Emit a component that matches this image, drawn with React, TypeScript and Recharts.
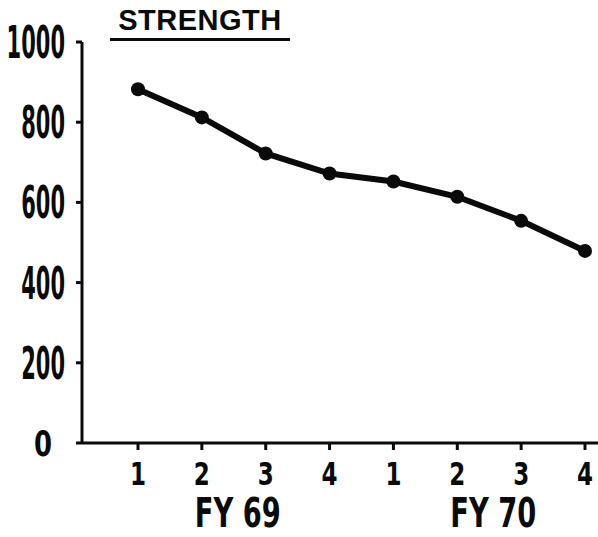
import React from 'react';
import { LineChart, Line, XAxis, YAxis } from 'recharts';

// quarter labels along the bottom, and which fiscal year each belongs to
const quarters = ['1', '2', '3', '4', '1', '2', '3', '4'];
const fiscalYears = ['FY 69', 'FY 69', 'FY 69', 'FY 69', 'FY 70', 'FY 70', 'FY 70', 'FY 70'];
const strength = [882, 812, 722, 672, 652, 614, 554, 479];
const yTicks = [0, 200, 400, 600, 800, 1000];

const data = quarters.map((q, i) => ({ key: `${fiscalYears[i]}-${q}-${i}`, q, fy: fiscalYears[i], strength: strength[i] }));

const FONT = "'Liberation Sans Narrow', 'DejaVu Sans Condensed', 'Liberation Sans', sans-serif";
const INK = '#0a0a0a';

const YTick = (props: any) => {
  const { x, y, payload } = props;
  const isZero = payload.value === 0;
  const shift = isZero ? -22 : -9;
  return (
    <g transform={`translate(${x + shift},${y})`}>
      <text transform={isZero ? 'scale(0.8,1)' : 'scale(0.53,1)'} textAnchor="end" dy={isZero ? 13 : 16} fontSize={isZero ? 36 : 44} fontWeight="bold" fontFamily={FONT} fill={INK}>
        {payload.value}
      </text>
    </g>
  );
};

const XTick = (props: any) => {
  const { x, y, payload, index } = props;
  const d = data[index];
  // fiscal year label sits between the 2nd and 3rd quarter of each year
  const showFy = d && d.q === '2';
  return (
    <g>
      <g transform={`translate(${x},${y})`}>
        <text transform="scale(0.8,1)" textAnchor="middle" dy={33} fontSize={32} fontWeight="bold" fontFamily={FONT} fill={INK}>
          {d ? d.q : payload.value}
        </text>
      </g>
      {showFy && (
        <g transform={`translate(${x + 36},${y})`}>
          <text transform="scale(0.76,1)" textAnchor="middle" dy={75} fontSize={40} fontWeight="bold" fontFamily={FONT} fill={INK}>
            {d.fy}
          </text>
        </g>
      )}
    </g>
  );
};

export default function App() {
  return (
    <div style={{ position: 'absolute', left: 0, top: 0, width: 598, height: 537, background: '#fff' }}>
      <div
        style={{
          position: 'absolute',
          left: 110,
          top: 5,
          width: 180,
          textAlign: 'center',
          fontFamily: "'Liberation Sans', Arial, sans-serif",
          fontWeight: 'bold',
          fontSize: 29,
          letterSpacing: 0.5,
          lineHeight: '31px',
          color: INK,
          borderBottom: `3px solid ${INK}`,
          paddingBottom: 2,
        }}
      >
        STRENGTH
      </div>
      <LineChart width={598} height={537} data={data} margin={{ top: 42, right: 0, bottom: 0, left: 0 }}>
        <XAxis
          dataKey="key"
          height={94}
          padding={{ left: 56, right: 13 }}
          axisLine={{ stroke: INK, strokeWidth: 3 }}
          tickLine={{ stroke: INK, strokeWidth: 3 }}
          tickSize={7}
          tick={<XTick />}
          interval={0}
        />
        <YAxis
          domain={[0, 1000]}
          ticks={yTicks}
          width={82}
          axisLine={{ stroke: INK, strokeWidth: 3 }}
          tickLine={{ stroke: INK, strokeWidth: 3 }}
          tickSize={6}
          tick={<YTick />}
          interval={0}
        />
        <Line
          dataKey="strength"
          type="linear"
          stroke={INK}
          strokeWidth={6}
          dot={{ r: 7, fill: INK, stroke: 'none' }}
          isAnimationActive={false}
        />
      </LineChart>
    </div>
  );
}
